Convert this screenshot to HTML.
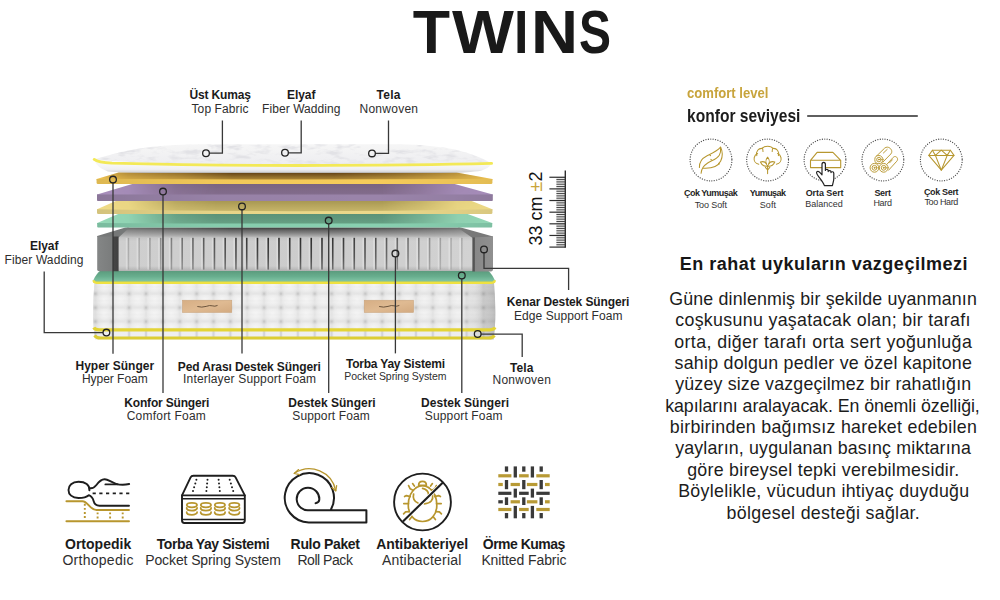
<!DOCTYPE html>
<html lang="tr">
<head>
<meta charset="utf-8">
<title>TWINS</title>
<style>
html,body{margin:0;padding:0;background:#fff;}
body{width:1000px;height:600px;overflow:hidden;font-family:"Liberation Sans",sans-serif;color:#1d1d1b;}
#page{position:relative;width:1000px;height:600px;overflow:hidden;background:#fff;}
.title{position:absolute;left:0;top:-3px;width:1000px;height:70px;margin:0;font-size:61px;line-height:70px;font-weight:700;color:#191919;white-space:nowrap;overflow:visible;}
.title span{display:inline-block;transform-origin:0 50%;overflow:visible;white-space:nowrap;letter-spacing:0;}
svg{position:absolute;left:0;top:0;overflow:visible;}
.t{position:absolute;white-space:pre;margin:0;padding:0;}

</style>
</head>
<body>
<div id="page">
<h1 class="title"><span style="width:37.27px;margin-left:412.80px;transform:scaleX(1.0)">T</span><span style="width:57.58px;margin-left:1.53px;transform:scaleX(1.075)">W</span><span style="width:16.96px;margin-left:5.32px;transform:scaleX(0.852)">I</span><span style="width:44.04px;margin-left:-0.01px;transform:scaleX(1.068)">N</span><span style="width:40.69px;margin-left:3.31px;transform:scaleX(0.787)">S</span></h1>
<svg id="mattress" width="1000" height="600" viewBox="0 0 1000 600">
<defs>
<linearGradient id="gMidH" gradientUnits="userSpaceOnUse" x1="97" y1="0" x2="493" y2="0">
<stop offset="0" stop-color="#fff" stop-opacity="0"/><stop offset="0.08" stop-color="#fff" stop-opacity="0.1"/><stop offset="0.2" stop-color="#fff" stop-opacity="0.8"/><stop offset="0.3" stop-color="#fff" stop-opacity="1"/><stop offset="0.72" stop-color="#fff" stop-opacity="1"/><stop offset="0.82" stop-color="#fff" stop-opacity="0.6"/><stop offset="0.91" stop-color="#fff" stop-opacity="0.15"/><stop offset="1" stop-color="#fff" stop-opacity="0.05"/>
</linearGradient>
<mask id="mMid" maskUnits="userSpaceOnUse" x="90" y="140" width="410" height="210"><rect x="90" y="140" width="410" height="210" fill="url(#gMidH)"/></mask>
<linearGradient id="gWideH" gradientUnits="userSpaceOnUse" x1="97" y1="0" x2="493" y2="0">
<stop offset="0" stop-color="#fff" stop-opacity="0"/><stop offset="0.03" stop-color="#fff" stop-opacity="0.25"/><stop offset="0.08" stop-color="#fff" stop-opacity="0.45"/><stop offset="0.22" stop-color="#fff" stop-opacity="0.7"/><stop offset="0.34" stop-color="#fff" stop-opacity="1"/><stop offset="0.6" stop-color="#fff" stop-opacity="1"/><stop offset="0.75" stop-color="#fff" stop-opacity="0.78"/><stop offset="0.9" stop-color="#fff" stop-opacity="0.45"/><stop offset="0.97" stop-color="#fff" stop-opacity="0.2"/><stop offset="1" stop-color="#fff" stop-opacity="0"/>
</linearGradient>
<mask id="mWide" maskUnits="userSpaceOnUse" x="90" y="140" width="410" height="210"><rect x="90" y="140" width="410" height="210" fill="url(#gWideH)"/></mask>
<linearGradient id="gFrontH" gradientUnits="userSpaceOnUse" x1="97" y1="0" x2="493" y2="0">
<stop offset="0" stop-color="#000" stop-opacity="0.1"/><stop offset="0.3" stop-color="#000" stop-opacity="0.02"/><stop offset="0.7" stop-color="#000" stop-opacity="0"/><stop offset="0.9" stop-color="#000" stop-opacity="0.04"/><stop offset="1" stop-color="#000" stop-opacity="0.08"/>
</linearGradient>
<linearGradient id="gEdgeR" x1="0" y1="0" x2="1" y2="0">
<stop offset="0" stop-color="#000" stop-opacity="0"/><stop offset="0.5" stop-color="#000" stop-opacity="0.09"/><stop offset="1" stop-color="#000" stop-opacity="0.2"/>
</linearGradient>
<linearGradient id="gBody" x1="0" y1="0" x2="1" y2="0">
<stop offset="0" stop-color="#dcdcdc"/><stop offset="0.03" stop-color="#f1f1f1"/><stop offset="0.5" stop-color="#f3f3f3"/><stop offset="0.96" stop-color="#ededed"/><stop offset="1" stop-color="#d4d4d4"/>
</linearGradient>
<linearGradient id="gGreenLow" x1="0" y1="0" x2="0" y2="1">
<stop offset="0" stop-color="#5a9a7c"/><stop offset="0.5" stop-color="#68ae8e"/><stop offset="0.9" stop-color="#80c4a4"/><stop offset="1" stop-color="#4f9f88"/>
</linearGradient>
<linearGradient id="gSpringTop" x1="0" y1="0" x2="0" y2="1">
<stop offset="0" stop-color="#8a8a8a"/><stop offset="0.3" stop-color="#a4a4a4"/><stop offset="0.8" stop-color="#bcbcbc"/><stop offset="1" stop-color="#c6c6c6"/>
</linearGradient>
<linearGradient id="gSpringTopSh" x1="0" y1="0" x2="0" y2="1">
<stop offset="0" stop-color="#0a0608" stop-opacity="0.62"/><stop offset="0.2" stop-color="#000" stop-opacity="0.42"/><stop offset="0.7" stop-color="#000" stop-opacity="0.16"/><stop offset="1" stop-color="#000" stop-opacity="0"/>
</linearGradient>
<linearGradient id="gCoilH" gradientUnits="userSpaceOnUse" x1="118" y1="0" x2="473" y2="0">
<stop offset="0" stop-color="#cfcfcf"/><stop offset="0.3" stop-color="#cdcdcd"/><stop offset="0.6" stop-color="#cccccc"/><stop offset="1" stop-color="#d2d2d2"/>
</linearGradient>
<linearGradient id="gCoilV" x1="0" y1="0" x2="0" y2="1">
<stop offset="0" stop-color="#000" stop-opacity="0.06"/><stop offset="0.12" stop-color="#000" stop-opacity="0"/><stop offset="0.85" stop-color="#000" stop-opacity="0"/><stop offset="1" stop-color="#000" stop-opacity="0.14"/>
</linearGradient>
<linearGradient id="gDiv" x1="0" y1="0" x2="0" y2="1">
<stop offset="0" stop-color="#242424"/><stop offset="0.6" stop-color="#3e3e3e"/><stop offset="1" stop-color="#6a6a6a"/>
</linearGradient>
<linearGradient id="gFoamL" x1="0" y1="0" x2="1" y2="0">
<stop offset="0" stop-color="#848686"/><stop offset="0.72" stop-color="#7a7c7c"/><stop offset="0.76" stop-color="#464646"/><stop offset="1" stop-color="#404040"/>
</linearGradient>
<linearGradient id="gFoamR" x1="0" y1="0" x2="1" y2="0">
<stop offset="0" stop-color="#4e4e4e"/><stop offset="0.1" stop-color="#5a5a5a"/><stop offset="0.15" stop-color="#888"/><stop offset="1" stop-color="#909090"/>
</linearGradient>
<linearGradient id="gPadTop" x1="0" y1="0" x2="0" y2="1">
<stop offset="0" stop-color="#f6f6f6"/><stop offset="1" stop-color="#ededf0"/>
</linearGradient>
<linearGradient id="gPadSide" gradientUnits="userSpaceOnUse" x1="0" y1="165" x2="0" y2="173">
<stop offset="0" stop-color="#f6f6f8"/><stop offset="0.55" stop-color="#efeff2"/><stop offset="0.85" stop-color="#d9d9dc"/><stop offset="1" stop-color="#a9a7a3"/>
</linearGradient>
<linearGradient id="gTag" x1="0" y1="0" x2="1" y2="1">
<stop offset="0" stop-color="#d6ae84"/><stop offset="0.5" stop-color="#dfba92"/><stop offset="1" stop-color="#d3aa80"/>
</linearGradient>
<radialGradient id="gTuft" cx="0.5" cy="0.5" r="0.5">
<stop offset="0" stop-color="#8a8a8a" stop-opacity="0.8"/><stop offset="0.45" stop-color="#a8a8a8" stop-opacity="0.4"/><stop offset="1" stop-color="#c0c0c0" stop-opacity="0"/>
</radialGradient>
<radialGradient id="gPuff" cx="0.5" cy="0.45" r="0.62">
<stop offset="0" stop-color="#fff" stop-opacity="0.8"/><stop offset="0.6" stop-color="#fff" stop-opacity="0.42"/><stop offset="1" stop-color="#fff" stop-opacity="0"/>
</radialGradient>
<pattern id="pQuilt" x="95.4" y="279.8" width="16.87" height="13.9" patternUnits="userSpaceOnUse">
<rect width="16.87" height="13.9" fill="#dedede"/>
<rect x="1.0" y="0.9" width="14.9" height="12.1" rx="3.4" fill="url(#gPuff)"/>
<rect x="0" y="6.6" width="16.87" height="0.7" fill="#cfcfcf" opacity="0.5"/>
<rect x="-3.6" y="10.3" width="7.2" height="7.2" fill="url(#gTuft)"/>
<rect x="13.27" y="10.3" width="7.2" height="7.2" fill="url(#gTuft)"/>
<rect x="-3.6" y="-3.6" width="7.2" height="7.2" fill="url(#gTuft)"/>
<rect x="13.27" y="-3.6" width="7.2" height="7.2" fill="url(#gTuft)"/>
</pattern>
<pattern id="pBand" x="95.4" y="331" width="16.87" height="6" patternUnits="userSpaceOnUse">
<rect width="16.87" height="6" fill="#ececf0"/>
<rect x="-1.2" y="0" width="2.4" height="6" fill="#b9bac6" opacity="0.8"/>
<rect x="15.67" y="0" width="2.4" height="6" fill="#b9bac6" opacity="0.8"/>
</pattern>
<filter id="fPad" x="0" y="0" width="100%" height="100%">
<feTurbulence type="fractalNoise" baseFrequency="0.07 0.2" numOctaves="3" seed="11" result="n"/>
<feColorMatrix in="n" type="matrix" values="0 0 0 0 0.76  0 0 0 0 0.76  0 0 0 0 0.79  2.4 2.4 0 0 -2.35"/>
<feComposite operator="in" in2="SourceGraphic"/>
</filter>
<filter id="fSoft" x="-5%" y="-5%" width="110%" height="110%"><feGaussianBlur stdDeviation="0.35"/></filter>
<clipPath id="cBody"><path d="M94.4,283 H494 Q495.6,300 495.3,318 Q495.2,330 493.6,339.6 H95 Q93.2,330 93.1,318 Q92.9,300 94.4,283 Z"/></clipPath>
</defs>
<g id="base">
<g clip-path="url(#cBody)">
<rect x="92" y="282" width="405" height="58" fill="#f1f1f1"/>
<rect x="92" y="282" width="405" height="48" fill="url(#pQuilt)" filter="url(#fSoft)"/>
<rect x="92" y="331" width="405" height="6.4" fill="url(#pBand)" filter="url(#fSoft)"/>
<rect x="92" y="282" width="405" height="58" fill="url(#gBody)" opacity="0.35"/>
<rect x="462" y="282" width="35" height="58" fill="url(#gEdgeR)"/>
</g>
<rect x="182.39999999999998" y="300.2" width="49.4" height="12.3" fill="url(#gTag)" stroke="#c8a27a" stroke-width="0.5"/>
<path d="M197.7,306.6 q4,1.2 8.5,-0.2 q3.5,-1.4 6,-0.6 q2.6,1 5,-0.2" fill="none" stroke="#5f4832" stroke-width="0.9" stroke-linecap="round"/>
<rect x="364.2" y="300.2" width="49.4" height="12.3" fill="url(#gTag)" stroke="#c8a27a" stroke-width="0.5"/>
<path d="M379.5,306.6 q4,1.2 8.5,-0.2 q3.5,-1.4 6,-0.6 q2.6,1 5,-0.2" fill="none" stroke="#5f4832" stroke-width="0.9" stroke-linecap="round"/>
<path d="M100.5,270.6 H488 Q491.6,273.6 495,280.6 L494.6,282.4 H93.6 L93.2,280.4 Q96.4,273.6 100.5,270.6 Z" fill="url(#gGreenLow)"/>
<path d="M93.6,280.2 Q93.7,282.6 96.6,282.7 H491.8 Q494.7,282.6 494.8,280.2" fill="none" stroke="#efe140" stroke-width="2.4"/>
<path d="M93.8,327.4 Q95,329.7 99,329.8 H490 Q494,329.7 495,327.4" fill="none" stroke="#e3d436" stroke-width="3.2"/>
<path d="M94.6,335.4 Q96.2,338 100.5,338.1 H488.5 Q492.8,338 494.4,335.4" fill="none" stroke="#dccd34" stroke-width="3"/>
</g>
<g id="springs">
<polygon points="117,238 127,227.4 460,227.4 474,238" fill="url(#gSpringTop)"/>
<polygon points="117,238 127,227.4 460,227.4 474,238" fill="url(#gSpringTopSh)" mask="url(#mWide)"/>
<rect x="118" y="237.2" width="355" height="33.8" fill="url(#gCoilH)"/>
<rect x="118" y="237.2" width="355" height="33.8" fill="url(#gCoilV)"/>
<rect x="125.80" y="238" width="2" height="31.6" fill="#fff" opacity="0.28"/>
<rect x="127.60" y="237.8" width="1.6" height="31.8" fill="url(#gDiv)" opacity="0.22"/>
<rect x="136.56" y="238" width="2" height="31.6" fill="#fff" opacity="0.28"/>
<rect x="138.35" y="237.8" width="1.6" height="31.8" fill="url(#gDiv)" opacity="0.22"/>
<rect x="147.31" y="238" width="2" height="31.6" fill="#fff" opacity="0.28"/>
<rect x="149.11" y="237.8" width="1.6" height="31.8" fill="url(#gDiv)" opacity="0.29"/>
<rect x="158.07" y="238" width="2" height="31.6" fill="#fff" opacity="0.28"/>
<rect x="159.87" y="237.8" width="1.6" height="31.8" fill="url(#gDiv)" opacity="0.38"/>
<rect x="168.82" y="238" width="2" height="31.6" fill="#fff" opacity="0.28"/>
<rect x="170.62" y="237.8" width="1.6" height="31.8" fill="url(#gDiv)" opacity="0.47"/>
<rect x="179.58" y="238" width="2" height="31.6" fill="#fff" opacity="0.28"/>
<rect x="181.38" y="237.8" width="1.6" height="31.8" fill="url(#gDiv)" opacity="0.55"/>
<rect x="190.33" y="238" width="2" height="31.6" fill="#fff" opacity="0.28"/>
<rect x="192.13" y="237.8" width="1.6" height="31.8" fill="url(#gDiv)" opacity="0.62"/>
<rect x="201.09" y="238" width="2" height="31.6" fill="#fff" opacity="0.28"/>
<rect x="202.88" y="237.8" width="1.6" height="31.8" fill="url(#gDiv)" opacity="0.69"/>
<rect x="211.84" y="238" width="2" height="31.6" fill="#fff" opacity="0.28"/>
<rect x="213.64" y="237.8" width="1.6" height="31.8" fill="url(#gDiv)" opacity="0.75"/>
<rect x="222.59" y="238" width="2" height="31.6" fill="#fff" opacity="0.28"/>
<rect x="224.39" y="237.8" width="1.6" height="31.8" fill="url(#gDiv)" opacity="0.80"/>
<rect x="233.35" y="238" width="2" height="31.6" fill="#fff" opacity="0.28"/>
<rect x="235.15" y="237.8" width="1.6" height="31.8" fill="url(#gDiv)" opacity="0.84"/>
<rect x="244.11" y="238" width="2" height="31.6" fill="#fff" opacity="0.28"/>
<rect x="245.91" y="237.8" width="1.6" height="31.8" fill="url(#gDiv)" opacity="0.88"/>
<rect x="254.86" y="238" width="2" height="31.6" fill="#fff" opacity="0.28"/>
<rect x="256.66" y="237.8" width="1.6" height="31.8" fill="url(#gDiv)" opacity="0.91"/>
<rect x="265.62" y="238" width="2" height="31.6" fill="#fff" opacity="0.28"/>
<rect x="267.42" y="237.8" width="1.6" height="31.8" fill="url(#gDiv)" opacity="0.93"/>
<rect x="276.37" y="238" width="2" height="31.6" fill="#fff" opacity="0.28"/>
<rect x="278.17" y="237.8" width="1.6" height="31.8" fill="url(#gDiv)" opacity="0.94"/>
<rect x="287.12" y="238" width="2" height="31.6" fill="#fff" opacity="0.28"/>
<rect x="288.93" y="237.8" width="1.6" height="31.8" fill="url(#gDiv)" opacity="0.95"/>
<rect x="297.88" y="238" width="2" height="31.6" fill="#fff" opacity="0.28"/>
<rect x="299.68" y="237.8" width="1.6" height="31.8" fill="url(#gDiv)" opacity="0.95"/>
<rect x="308.63" y="238" width="2" height="31.6" fill="#fff" opacity="0.28"/>
<rect x="310.44" y="237.8" width="1.6" height="31.8" fill="url(#gDiv)" opacity="0.94"/>
<rect x="319.39" y="238" width="2" height="31.6" fill="#fff" opacity="0.28"/>
<rect x="321.19" y="237.8" width="1.6" height="31.8" fill="url(#gDiv)" opacity="0.93"/>
<rect x="330.14" y="238" width="2" height="31.6" fill="#fff" opacity="0.28"/>
<rect x="331.94" y="237.8" width="1.6" height="31.8" fill="url(#gDiv)" opacity="0.91"/>
<rect x="340.90" y="238" width="2" height="31.6" fill="#fff" opacity="0.28"/>
<rect x="342.70" y="237.8" width="1.6" height="31.8" fill="url(#gDiv)" opacity="0.88"/>
<rect x="351.65" y="238" width="2" height="31.6" fill="#fff" opacity="0.28"/>
<rect x="353.45" y="237.8" width="1.6" height="31.8" fill="url(#gDiv)" opacity="0.84"/>
<rect x="362.41" y="238" width="2" height="31.6" fill="#fff" opacity="0.28"/>
<rect x="364.21" y="237.8" width="1.6" height="31.8" fill="url(#gDiv)" opacity="0.80"/>
<rect x="373.16" y="238" width="2" height="31.6" fill="#fff" opacity="0.28"/>
<rect x="374.96" y="237.8" width="1.6" height="31.8" fill="url(#gDiv)" opacity="0.74"/>
<rect x="383.92" y="238" width="2" height="31.6" fill="#fff" opacity="0.28"/>
<rect x="385.72" y="237.8" width="1.6" height="31.8" fill="url(#gDiv)" opacity="0.69"/>
<rect x="394.67" y="238" width="2" height="31.6" fill="#fff" opacity="0.28"/>
<rect x="396.47" y="237.8" width="1.6" height="31.8" fill="url(#gDiv)" opacity="0.62"/>
<rect x="405.43" y="238" width="2" height="31.6" fill="#fff" opacity="0.28"/>
<rect x="407.23" y="237.8" width="1.6" height="31.8" fill="url(#gDiv)" opacity="0.55"/>
<rect x="416.19" y="238" width="2" height="31.6" fill="#fff" opacity="0.28"/>
<rect x="417.99" y="237.8" width="1.6" height="31.8" fill="url(#gDiv)" opacity="0.47"/>
<rect x="426.94" y="238" width="2" height="31.6" fill="#fff" opacity="0.28"/>
<rect x="428.74" y="237.8" width="1.6" height="31.8" fill="url(#gDiv)" opacity="0.38"/>
<rect x="437.70" y="238" width="2" height="31.6" fill="#fff" opacity="0.28"/>
<rect x="439.50" y="237.8" width="1.6" height="31.8" fill="url(#gDiv)" opacity="0.28"/>
<rect x="448.45" y="238" width="2" height="31.6" fill="#fff" opacity="0.28"/>
<rect x="450.25" y="237.8" width="1.6" height="31.8" fill="url(#gDiv)" opacity="0.22"/>
<rect x="459.21" y="238" width="2" height="31.6" fill="#fff" opacity="0.28"/>
<rect x="461.01" y="237.8" width="1.6" height="31.8" fill="url(#gDiv)" opacity="0.22"/>
<polygon points="97.2,237 97.2,236 125.4,227.4 129.4,227.4 118.6,237.6" fill="#767878"/>
<path d="M97.2,236.6 H118.6 V271.2 H99 Q97.2,271.2 97.2,269.4 Z" fill="url(#gFoamL)"/>
<polygon points="457.6,227.4 461,227.4 493,236.4 493,238 472.6,238" fill="#787878"/>
<path d="M472.4,237.4 L493,236.6 V269.6 Q493,271.4 491.2,271.4 H472.4 Z" fill="url(#gFoamR)"/>
</g>
<g id="slabs">
<path d="M97.2,224.2 V223 L119.2,213.4 H466.2 L492.2,223 V224.2 Q294.7,225.39999999999998 97.2,224.2 Z" fill="#96dab9"/>
<linearGradient id="gS4v" gradientUnits="userSpaceOnUse" x1="0" y1="213.4" x2="0" y2="224.2"><stop offset="0" stop-color="#0a301e" stop-opacity="0.43"/><stop offset="1" stop-color="#0a301e" stop-opacity="0.34"/></linearGradient>
<path d="M97.2,224.2 V223 L119.2,213.4 H466.2 L492.2,223 V224.2 Q294.7,225.39999999999998 97.2,224.2 Z" fill="url(#gS4v)" mask="url(#mMid)"/>
<path d="M97.2,223 Q294.7,224.2 492.2,223 V226.79999999999998 Q492.2,227.6 491.2,227.6 H98.2 Q97.2,227.6 97.2,226.79999999999998 Z" fill="#88d0b0"/>
<path d="M97.2,223 Q294.7,224.2 492.2,223 V226.79999999999998 Q492.2,227.6 491.2,227.6 H98.2 Q97.2,227.6 97.2,226.79999999999998 Z" fill="url(#gFrontH)"/>
<path d="M97.0,210.39999999999998 V209.2 L117.0,200.4 H470.4 L492.4,209.2 V210.39999999999998 Q294.7,214.39999999999998 97.0,210.39999999999998 Z" fill="#f0dc88"/>
<linearGradient id="gS3v" gradientUnits="userSpaceOnUse" x1="0" y1="200.4" x2="0" y2="211.79999999999998"><stop offset="0" stop-color="#3a3000" stop-opacity="0.4"/><stop offset="1" stop-color="#3a3000" stop-opacity="0.22"/></linearGradient>
<path d="M97.0,210.39999999999998 V209.2 L117.0,200.4 H470.4 L492.4,209.2 V210.39999999999998 Q294.7,214.39999999999998 97.0,210.39999999999998 Z" fill="url(#gS3v)" mask="url(#mMid)"/>
<path d="M97.0,209.2 Q294.7,213.2 492.4,209.2 V213.1 Q492.4,213.9 491.4,213.9 H98.0 Q97.0,213.9 97.0,213.1 Z" fill="#ebd88a"/>
<path d="M97.0,209.2 Q294.7,213.2 492.4,209.2 V213.1 Q492.4,213.9 491.4,213.9 H98.0 Q97.0,213.9 97.0,213.1 Z" fill="url(#gFrontH)"/>
<path d="M97.0,195.6 V194.4 L134.0,183.4 H452.8 L492.8,194.4 V195.6 Q294.9,195.6 97.0,195.6 Z" fill="#a88fbc"/>
<linearGradient id="gS2v" gradientUnits="userSpaceOnUse" x1="0" y1="183.4" x2="0" y2="195.0"><stop offset="0" stop-color="#3a2a30" stop-opacity="0.43"/><stop offset="1" stop-color="#3a2a30" stop-opacity="0.33"/></linearGradient>
<path d="M97.0,195.6 V194.4 L134.0,183.4 H452.8 L492.8,194.4 V195.6 Q294.9,195.6 97.0,195.6 Z" fill="url(#gS2v)" mask="url(#mMid)"/>
<path d="M97.0,194.4 Q294.9,194.4 492.8,194.4 V200.29999999999998 Q492.8,201.1 491.8,201.1 H98.0 Q97.0,201.1 97.0,200.29999999999998 Z" fill="#9a84aa"/>
<path d="M97.0,194.4 Q294.9,194.4 492.8,194.4 V200.29999999999998 Q492.8,201.1 491.8,201.1 H98.0 Q97.0,201.1 97.0,200.29999999999998 Z" fill="url(#gFrontH)"/>
<path d="M96.6,180.2 V179 L118.6,172.6 H456.4 L492.4,179 V180.2 Q294.5,181.0 96.6,180.2 Z" fill="#f3c754"/>
<linearGradient id="gS1v" gradientUnits="userSpaceOnUse" x1="0" y1="172.6" x2="0" y2="180.0"><stop offset="0" stop-color="#2e1200" stop-opacity="0.74"/><stop offset="1" stop-color="#2e1200" stop-opacity="0.32"/></linearGradient>
<path d="M96.6,180.2 V179 L118.6,172.6 H456.4 L492.4,179 V180.2 Q294.5,181.0 96.6,180.2 Z" fill="url(#gS1v)" mask="url(#mWide)"/>
<path d="M96.6,179 Q294.5,179.8 492.4,179 V183.1 Q492.4,183.9 491.4,183.9 H97.6 Q96.6,183.9 96.6,183.1 Z" fill="#f6cc5a"/>
<path d="M96.6,179 Q294.5,179.8 492.4,179 V183.1 Q492.4,183.9 491.4,183.9 H97.6 Q96.6,183.9 96.6,183.1 Z" fill="url(#gFrontH)"/>
</g>
<g id="pad">
<path d="M94.4,160 Q97,168 108,171.4 Q120,172.8 160,172.9 H440 Q470,172.7 481,170.8 Q489,168.3 491.6,163.6 Q440,164.4 300,165.2 Q150,164.9 94.4,160 Z" fill="url(#gPadSide)"/>
<path d="M94.2,159.6 Q112,153.5 135,149.2 Q160,144.8 200,144.2 H400 Q432,144.8 455,149.6 Q478,155.4 491.8,163.4 Q440,164.2 300,165.2 Q150,164.8 94.2,159.6 Z" fill="url(#gPadTop)"/>
<path d="M94.2,159.6 Q112,153.5 135,149.2 Q160,144.8 200,144.2 H400 Q432,144.8 455,149.6 Q478,155.4 491.8,163.4 Q440,164.2 300,165.2 Q150,164.8 94.2,159.6 Z" fill="#fff" filter="url(#fPad)"/>
<path d="M94.2,159.4 Q98,162.4 112,163.2 Q200,165.5 300,165.5 Q420,165.2 491.6,163.4" fill="none" stroke="#f3e957" stroke-width="2.8" stroke-linecap="round"/>
</g>
<g id="callouts" fill="none" stroke="#383838" stroke-width="1.3">
<path d="M209.3,153.2 H222.4 V120.5"/>
<circle cx="206" cy="153.2" r="3.35" stroke="#232323" stroke-width="1.3"/>
<path d="M288.3,152.8 H301.2 V120.5"/>
<circle cx="285" cy="152.8" r="3.35" stroke="#232323" stroke-width="1.3"/>
<path d="M375.3,153.4 H388.5 V120.5"/>
<circle cx="372" cy="153.4" r="3.35" stroke="#232323" stroke-width="1.3"/>
<path d="M103.1,332.6 H44.2 V271.5"/>
<circle cx="106.4" cy="332.6" r="3.35" stroke="#232323" stroke-width="1.3"/>
<path d="M113,182.9 V353.8"/>
<circle cx="113" cy="179.6" r="3.35" stroke="#232323" stroke-width="1.3"/>
<path d="M163,194.9 V393"/>
<circle cx="163" cy="191.6" r="3.35" stroke="#232323" stroke-width="1.3"/>
<path d="M242,209.7 V353.4"/>
<circle cx="242" cy="206.4" r="3.35" stroke="#232323" stroke-width="1.3"/>
<path d="M328.7,223.9 V393"/>
<circle cx="328.7" cy="220.6" r="3.35" stroke="#232323" stroke-width="1.3"/>
<path d="M395.4,256.9 V353.4"/>
<circle cx="395.4" cy="253.6" r="3.35" stroke="#232323" stroke-width="1.3"/>
<path d="M461.8,278.8 V393"/>
<circle cx="461.8" cy="275.5" r="3.35" stroke="#232323" stroke-width="1.3"/>
<path d="M484,252.7 V268.4 H568.6 V290"/>
<circle cx="484" cy="249.4" r="3.35" stroke="#232323" stroke-width="1.3"/>
<path d="M481,334.2 H522.2 V357"/>
<circle cx="477.7" cy="334" r="3.35" stroke="#232323" stroke-width="1.3"/>
</g>
<g id="ruler" stroke="#2e2e2e">
<line x1="565.3" y1="170.6" x2="565.3" y2="247.8" stroke-width="1.4"/>
<line x1="549.4" y1="177.25" x2="565.3" y2="177.25" stroke-width="1.2"/>
<line x1="556.4" y1="179.58" x2="565.3" y2="179.58" stroke-width="0.95" stroke="#444"/>
<line x1="556.4" y1="181.91" x2="565.3" y2="181.91" stroke-width="0.95" stroke="#444"/>
<line x1="556.4" y1="184.24" x2="565.3" y2="184.24" stroke-width="0.95" stroke="#444"/>
<line x1="556.4" y1="186.56" x2="565.3" y2="186.56" stroke-width="0.95" stroke="#444"/>
<line x1="549.4" y1="188.89" x2="565.3" y2="188.89" stroke-width="1.2"/>
<line x1="556.4" y1="191.22" x2="565.3" y2="191.22" stroke-width="0.95" stroke="#444"/>
<line x1="556.4" y1="193.55" x2="565.3" y2="193.55" stroke-width="0.95" stroke="#444"/>
<line x1="556.4" y1="195.88" x2="565.3" y2="195.88" stroke-width="0.95" stroke="#444"/>
<line x1="556.4" y1="198.20" x2="565.3" y2="198.20" stroke-width="0.95" stroke="#444"/>
<line x1="549.4" y1="200.53" x2="565.3" y2="200.53" stroke-width="1.2"/>
<line x1="556.4" y1="202.86" x2="565.3" y2="202.86" stroke-width="0.95" stroke="#444"/>
<line x1="556.4" y1="205.19" x2="565.3" y2="205.19" stroke-width="0.95" stroke="#444"/>
<line x1="556.4" y1="207.52" x2="565.3" y2="207.52" stroke-width="0.95" stroke="#444"/>
<line x1="556.4" y1="209.85" x2="565.3" y2="209.85" stroke-width="0.95" stroke="#444"/>
<line x1="549.4" y1="212.18" x2="565.3" y2="212.18" stroke-width="1.2"/>
<line x1="556.4" y1="214.50" x2="565.3" y2="214.50" stroke-width="0.95" stroke="#444"/>
<line x1="556.4" y1="216.83" x2="565.3" y2="216.83" stroke-width="0.95" stroke="#444"/>
<line x1="556.4" y1="219.16" x2="565.3" y2="219.16" stroke-width="0.95" stroke="#444"/>
<line x1="556.4" y1="221.49" x2="565.3" y2="221.49" stroke-width="0.95" stroke="#444"/>
<line x1="549.4" y1="223.82" x2="565.3" y2="223.82" stroke-width="1.2"/>
<line x1="556.4" y1="226.14" x2="565.3" y2="226.14" stroke-width="0.95" stroke="#444"/>
<line x1="556.4" y1="228.47" x2="565.3" y2="228.47" stroke-width="0.95" stroke="#444"/>
<line x1="556.4" y1="230.80" x2="565.3" y2="230.80" stroke-width="0.95" stroke="#444"/>
<line x1="556.4" y1="233.13" x2="565.3" y2="233.13" stroke-width="0.95" stroke="#444"/>
<line x1="549.4" y1="235.46" x2="565.3" y2="235.46" stroke-width="1.2"/>
<line x1="556.4" y1="237.79" x2="565.3" y2="237.79" stroke-width="0.95" stroke="#444"/>
<line x1="556.4" y1="240.12" x2="565.3" y2="240.12" stroke-width="0.95" stroke="#444"/>
<line x1="556.4" y1="242.44" x2="565.3" y2="242.44" stroke-width="0.95" stroke="#444"/>
<line x1="556.4" y1="244.77" x2="565.3" y2="244.77" stroke-width="0.95" stroke="#444"/>
<line x1="549.4" y1="247.10" x2="565.3" y2="247.10" stroke-width="1.2"/>
<rect x="556.4" y="177.2" width="8.6" height="70" fill="#000" stroke="none" opacity="0.1"/>
</g>
<text transform="translate(541.8,245.6) rotate(-90)" font-family="'Liberation Sans',sans-serif" font-size="18" fill="#111" textLength="74" lengthAdjust="spacing">33 cm <tspan fill="#c9a53c">±</tspan>2</text>
</svg>
<div id="labels">
<div class="t" style="left:189.50px;top:87px;font-size:12px;line-height:16px;letter-spacing:-0.148px;font-weight:700;color:#1b1b1b;">Üst Kumaş</div>
<div class="t" style="left:191.50px;top:101px;font-size:12px;line-height:16px;letter-spacing:0.108px;color:#2e2e2e;">Top Fabric</div>
<div class="t" style="left:287.00px;top:87px;font-size:12px;line-height:16px;letter-spacing:-0.047px;font-weight:700;color:#1b1b1b;">Elyaf</div>
<div class="t" style="left:262.00px;top:101px;font-size:12px;line-height:16px;letter-spacing:0.076px;color:#2e2e2e;">Fiber Wadding</div>
<div class="t" style="left:376.50px;top:87px;font-size:12px;line-height:16px;letter-spacing:0.292px;font-weight:700;color:#1b1b1b;">Tela</div>
<div class="t" style="left:359.50px;top:101px;font-size:12px;line-height:16px;letter-spacing:0.257px;color:#2e2e2e;">Nonwoven</div>
<div class="t" style="left:30.00px;top:238px;font-size:12px;line-height:16px;letter-spacing:-0.047px;font-weight:700;color:#1b1b1b;">Elyaf</div>
<div class="t" style="left:4.50px;top:252px;font-size:12px;line-height:16px;letter-spacing:0.117px;color:#2e2e2e;">Fiber Wadding</div>
<div class="t" style="left:75.50px;top:358px;font-size:12px;line-height:16px;letter-spacing:-0.008px;font-weight:700;color:#1b1b1b;">Hyper Sünger</div>
<div class="t" style="left:81.90px;top:371px;font-size:12px;line-height:16px;letter-spacing:-0.026px;color:#2e2e2e;">Hyper Foam</div>
<div class="t" style="left:124.30px;top:395px;font-size:12px;line-height:16px;letter-spacing:-0.179px;font-weight:700;color:#1b1b1b;">Konfor Süngeri</div>
<div class="t" style="left:126.70px;top:408px;font-size:12px;line-height:16px;letter-spacing:0.219px;color:#2e2e2e;">Comfort Foam</div>
<div class="t" style="left:177.80px;top:359px;font-size:12px;line-height:16px;letter-spacing:-0.110px;font-weight:700;color:#1b1b1b;">Ped Arası Destek Süngeri</div>
<div class="t" style="left:183.10px;top:371px;font-size:12px;line-height:16px;letter-spacing:0.163px;color:#2e2e2e;">Interlayer Support Foam</div>
<div class="t" style="left:345.90px;top:356px;font-size:12px;line-height:16px;letter-spacing:-0.199px;font-weight:700;color:#1b1b1b;">Torba Yay Sistemi</div>
<div class="t" style="left:344.30px;top:369px;font-size:10.5px;line-height:14px;letter-spacing:-0.058px;color:#2e2e2e;">Pocket Spring System</div>
<div class="t" style="left:288.30px;top:395px;font-size:12px;line-height:16px;letter-spacing:0.002px;font-weight:700;color:#1b1b1b;">Destek Süngeri</div>
<div class="t" style="left:292.30px;top:408px;font-size:12px;line-height:16px;letter-spacing:0.132px;color:#2e2e2e;">Support Foam</div>
<div class="t" style="left:421.10px;top:395px;font-size:12px;line-height:16px;letter-spacing:0.040px;font-weight:700;color:#1b1b1b;">Destek Süngeri</div>
<div class="t" style="left:424.80px;top:408px;font-size:12px;line-height:16px;letter-spacing:0.150px;color:#2e2e2e;">Support Foam</div>
<div class="t" style="left:506.80px;top:294px;font-size:12px;line-height:16px;letter-spacing:-0.112px;font-weight:700;color:#1b1b1b;">Kenar Destek Süngeri</div>
<div class="t" style="left:514.00px;top:308px;font-size:12px;line-height:16px;letter-spacing:0.068px;color:#2e2e2e;">Edge Support Foam</div>
<div class="t" style="left:509.90px;top:360px;font-size:12px;line-height:16px;letter-spacing:0.158px;font-weight:700;color:#1b1b1b;">Tela</div>
<div class="t" style="left:492.50px;top:372px;font-size:12px;line-height:16px;letter-spacing:0.242px;color:#2e2e2e;">Nonwoven</div>
</div>
<div id="comfort">
<div class="t" style="left:687.10px;top:83px;font-size:15px;line-height:20px;transform-origin:0 0;transform:scaleX(0.8718);font-weight:700;color:#c8a43c;">comfort level</div>
<div class="t" style="left:687.10px;top:104px;font-size:18.5px;line-height:24px;transform-origin:0 0;transform:scaleX(0.8419);font-weight:700;color:#1c1c1c;">konfor seviyesi</div>
<svg id="cicons" width="1000" height="600" viewBox="0 0 1000 600">
<line x1="807.2" y1="116" x2="917.8" y2="116" stroke="#2a2a2a" stroke-width="1.3"/>
<circle cx="711.0" cy="160.0" r="20.9" fill="none" stroke="#4f4f4f" stroke-width="1.3" stroke-dasharray="0.01 2.43" stroke-linecap="round"/>
<circle cx="767.6" cy="160.0" r="20.9" fill="none" stroke="#4f4f4f" stroke-width="1.3" stroke-dasharray="0.01 2.43" stroke-linecap="round"/>
<circle cx="825.0" cy="160.0" r="20.9" fill="none" stroke="#4f4f4f" stroke-width="1.3" stroke-dasharray="0.01 2.43" stroke-linecap="round"/>
<circle cx="882.9" cy="160.0" r="20.9" fill="none" stroke="#4f4f4f" stroke-width="1.3" stroke-dasharray="0.01 2.43" stroke-linecap="round"/>
<circle cx="941.3" cy="160.0" r="20.9" fill="none" stroke="#4f4f4f" stroke-width="1.3" stroke-dasharray="0.01 2.43" stroke-linecap="round"/>
<g transform="translate(0.10,0.00)" fill="none" stroke="#b7972f" stroke-width="1.05" stroke-linecap="round" stroke-linejoin="round">
<path d="M720.5,147.2 C716.5,151.6 711.5,153.6 706.6,156 C702,158.3 699.2,162 699.3,167.4"/>
<path d="M720.5,147.2 C722.6,151.4 722.6,156.6 720.6,161 C718,166.4 711.5,168.6 703.4,168.2"/>
<path d="M701,173.2 C701.2,169 703.6,165.6 707.6,163 C711.6,160.4 716.5,159.4 719.2,155.2 C720.4,153.2 720.8,150.6 720.5,147.2"/>
<path d="M709.6,154.8 l0.9,0.9"/><path d="M718.4,163.4 l0.9,0.6"/><path d="M710.8,159.4 l0.5,0.5"/>
</g>
<g transform="translate(0.00,0.00)" fill="none" stroke="#b7972f" stroke-width="1.05" stroke-linecap="round" stroke-linejoin="round">
<path d="M758.8,164.2 C755.4,163.4 753.6,160.6 754.2,157.6 C754.6,155.6 756,154.2 757.6,153.6"/>
<path d="M756.8,155.6 C755.6,151.4 758.6,148 762.2,148.4 C762.8,148.5 763,149.6 763,151.4"/>
<path d="M762.2,148.6 C763.2,146.8 765.2,146.2 767.6,146.2 C770,146.2 772,146.8 773,148.6"/>
<path d="M772.2,151.4 C772.2,149.6 772.4,148.5 773,148.4 C776.6,148 779.6,151.4 778.4,155.6"/>
<path d="M777.6,153.6 C779.2,154.2 780.6,155.6 781,157.6 C781.6,160.6 779.8,163.4 776.4,164.2"/>
<path d="M767.6,157.2 C765.6,159.6 765.4,163.4 767.6,166.2 C769.8,163.4 769.6,159.6 767.6,157.2 Z"/>
<path d="M767.6,166.2 C764.4,166.6 761.8,165.2 760.4,162 C763.2,161.2 765.4,162 766.4,163.6"/>
<path d="M767.6,166.2 C770.8,166.6 773.4,165.2 774.8,162 C772,161.2 769.8,162 768.8,163.6"/>
<path d="M765.4,167.4 L767.6,170 L769.8,167.4"/>
<path d="M767.6,166.2 V173.6"/>
</g>
<g transform="translate(0.00,0.00)" stroke-linecap="round" stroke-linejoin="round">
<path d="M810.5,160.3 L817.1,152.4 H832.9 L840.7,160.3 V167.6 H810.5 Z M810.5,160.3 H840.7" fill="none" stroke="#b7972f" stroke-width="1.1"/>
<path d="M822,164.4 C822,161.6 825.4,161.6 825.4,164.4 V170.4 C825.4,169 828.2,169 828.2,170.6 V171.6 C828.2,170.2 831,170.2 831,171.8 V172.6 C831,171.4 833.8,171.4 833.8,173.2 V178.4 C833.8,181 833,182.4 832.4,185.6 H824.4 C823.4,182.8 821.6,180.4 819.4,177.6 C818,175.8 816.8,174.4 816.6,173 C816.4,171.6 817.8,171 819,171.8 C820.2,172.6 821,173.6 822,174.8 Z" fill="#fff" stroke="#222" stroke-width="1.2"/>
</g>
<g transform="translate(0.00,0.00)" fill="none" stroke="#b7972f" stroke-width="0.95" stroke-linecap="round" stroke-linejoin="round">
<path d="M886.6,164.6 L893.2,157.4 C895.6,154.8 899.2,158.6 896.8,161.2 L888.6,170.2"/>
<path d="M889.6,162.8 L892.4,159.8"/>
<path d="M876.2,156.4 L884.6,148.2 C888.2,144.8 894.2,150.4 890.8,154 L882.8,162.2"/>
<path d="M883.4,153 L887.2,149.4"/>
<circle cx="878.9" cy="159.6" r="4.1" fill="#fff"/>
<circle cx="878.9" cy="159.6" r="2.25"/>
<circle cx="878.9" cy="159.6" r="0.5" fill="#b7972f"/>
<circle cx="874.5" cy="167.8" r="4.4" fill="#fff"/>
<circle cx="874.5" cy="167.8" r="2.42"/>
<circle cx="874.5" cy="167.8" r="0.5" fill="#b7972f"/>
<circle cx="883.7" cy="167.8" r="4.4" fill="#fff"/>
<circle cx="883.7" cy="167.8" r="2.42"/>
<circle cx="883.7" cy="167.8" r="0.5" fill="#b7972f"/>
</g>
<g transform="translate(0.00,0.00)" fill="none" stroke="#b7972f" stroke-width="1.05" stroke-linecap="round" stroke-linejoin="round">
<path d="M932.4,150.2 H950.4 L954,155.4 L941.3,170.2 L928.8,155.4 Z"/>
<path d="M928.8,155.4 H954"/>
<path d="M932.4,150.2 L935.4,155.4 L941.3,150.2 L947.2,155.4 L950.4,150.2"/>
<path d="M935.4,155.4 L941.3,170.2 L947.2,155.4"/>
</g>
</svg>
<div class="t" style="left:683.90px;top:187px;font-size:9px;line-height:12px;letter-spacing:-0.498px;font-weight:700;color:#1f1f1f;">Çok Yumuşak</div>
<div class="t" style="left:694.70px;top:199px;font-size:9px;line-height:12px;letter-spacing:-0.104px;color:#333;">Too Soft</div>
<div class="t" style="left:749.70px;top:187px;font-size:9px;line-height:12px;letter-spacing:-0.522px;font-weight:700;color:#1f1f1f;">Yumuşak</div>
<div class="t" style="left:759.70px;top:199px;font-size:9px;line-height:12px;letter-spacing:0.128px;color:#333;">Soft</div>
<div class="t" style="left:805.70px;top:187px;font-size:9px;line-height:12px;letter-spacing:-0.077px;font-weight:700;color:#1f1f1f;">Orta Sert</div>
<div class="t" style="left:805.30px;top:198px;font-size:9px;line-height:12px;letter-spacing:-0.004px;color:#333;">Balanced</div>
<div class="t" style="left:874.40px;top:187px;font-size:9px;line-height:12px;letter-spacing:-0.272px;font-weight:700;color:#1f1f1f;">Sert</div>
<div class="t" style="left:873.40px;top:197px;font-size:9px;line-height:12px;letter-spacing:-0.305px;color:#333;">Hard</div>
<div class="t" style="left:923.90px;top:186px;font-size:9px;line-height:12px;letter-spacing:-0.331px;font-weight:700;color:#1f1f1f;">Çok Sert</div>
<div class="t" style="left:924.40px;top:196px;font-size:9px;line-height:12px;letter-spacing:-0.376px;color:#333;">Too Hard</div>
</div>
<div id="para">
<div class="t" style="left:679.70px;top:253px;font-size:18px;line-height:23px;letter-spacing:0.526px;font-weight:700;color:#161616;">En rahat uykuların vazgeçilmezi</div>
<div class="t" style="left:669.20px;top:288px;font-size:17.8px;line-height:23px;letter-spacing:0.175px;color:#1c1c1c;">Güne dinlenmiş bir şekilde uyanmanın</div>
<div class="t" style="left:675.20px;top:309px;font-size:17.8px;line-height:23px;letter-spacing:0.329px;color:#1c1c1c;">coşkusunu yaşatacak olan; bir tarafı</div>
<div class="t" style="left:674.20px;top:331px;font-size:17.8px;line-height:23px;letter-spacing:0.403px;color:#1c1c1c;">orta, diğer tarafı orta sert yoğunluğa</div>
<div class="t" style="left:674.60px;top:352px;font-size:17.8px;line-height:23px;letter-spacing:0.244px;color:#1c1c1c;">sahip dolgun pedler ve özel kapitone</div>
<div class="t" style="left:675.20px;top:373px;font-size:17.8px;line-height:23px;letter-spacing:0.179px;color:#1c1c1c;">yüzey size vazgeçilmez bir rahatlığın</div>
<div class="t" style="left:665.20px;top:395px;font-size:17.8px;line-height:23px;letter-spacing:-0.065px;color:#1c1c1c;">kapılarını aralayacak. En önemli özelliği,</div>
<div class="t" style="left:669.80px;top:416px;font-size:17.8px;line-height:23px;letter-spacing:0.290px;color:#1c1c1c;">birbirinden bağımsız hareket edebilen</div>
<div class="t" style="left:675.20px;top:437px;font-size:17.8px;line-height:23px;letter-spacing:0.171px;color:#1c1c1c;">yayların, uygulanan basınç miktarına</div>
<div class="t" style="left:687.20px;top:459px;font-size:17.8px;line-height:23px;letter-spacing:0.268px;color:#1c1c1c;">göre bireysel tepki verebilmesidir.</div>
<div class="t" style="left:678.20px;top:480px;font-size:17.8px;line-height:23px;letter-spacing:0.302px;color:#1c1c1c;">Böylelikle, vücudun ihtiyaç duyduğu</div>
<div class="t" style="left:726.60px;top:502px;font-size:17.8px;line-height:23px;letter-spacing:0.320px;color:#1c1c1c;">bölgesel desteği sağlar.</div>
</div>
<div id="features">
<svg id="ficons" width="1000" height="600" viewBox="0 0 1000 600">
<g fill="none" stroke="#b8962e" stroke-width="1.9" stroke-linecap="round" stroke-linejoin="round">
<path d="M66.4,501.2 H82.5 C88,501.2 89.5,510 96.5,510 H129"/>
<path d="M66.4,521.3 H129"/>
</g>
<g fill="none" stroke="#b8962e" stroke-width="1.9" stroke-dasharray="1.9 2.2">
<path d="M84.8,503.8 V519.5"/>
<path d="M97.6,512.4 V519.5"/>
<path d="M110.1,512.4 V519.5"/>
<path d="M122.7,512.4 V519.5"/>
</g>
<g fill="none" stroke="#1e1e1e" stroke-width="1.9" stroke-linecap="round" stroke-linejoin="round">
<path d="M89.4,490.4 C89.8,485 85.5,481.8 78.5,481.8 C72,481.8 68.5,485.5 68.5,489.9 C68.5,494.4 72,498 78.5,498 C83.5,498 86.8,497 88.8,495.2 C91.5,496.2 93,498.6 93.6,501 C94.4,504.2 96,505.7 99.5,505.7 H129"/>
<path d="M89.8,488.2 C93,488.6 94.6,487.4 96.4,485 C98.6,482 100.8,479.4 104.6,479.3 C108,479.2 110.5,482 116,483.8 C120.5,485.2 125,485 129.2,484"/>
<path d="M105.4,484.4 H117.5"/>
</g>
<path d="M92.6,493.3 H129.4" fill="none" stroke="#1e1e1e" stroke-width="1.8" stroke-dasharray="3.2 3.5"/>
<g fill="none" stroke="#1e1e1e" stroke-width="1.9" stroke-linejoin="round" stroke-linecap="round">
<path d="M182,495.4 L190.6,477.4 Q191.4,475.8 193.4,475.8 H232.8 Q234.8,475.8 235.6,477.4 L244.8,495.4"/>
<path d="M182,495.4 H244.8 V520.6 Q244.8,523 242.4,523 H184.4 Q182,523 182,520.6 Z"/>
</g>
<g fill="none" stroke="#1e1e1e" stroke-width="1.5">
<path d="M182,498.7 H244.8"/>
<path d="M182,519.5 H244.8"/>
</g>
<circle cx="196.4" cy="479.8" r="1" fill="#1e1e1e"/>
<circle cx="207.5" cy="479.8" r="1" fill="#1e1e1e"/>
<circle cx="218.6" cy="479.8" r="1" fill="#1e1e1e"/>
<circle cx="229.7" cy="479.8" r="1" fill="#1e1e1e"/>
<circle cx="195.3" cy="483.4" r="1" fill="#1e1e1e"/>
<circle cx="207.1" cy="483.4" r="1" fill="#1e1e1e"/>
<circle cx="219.0" cy="483.4" r="1" fill="#1e1e1e"/>
<circle cx="230.9" cy="483.4" r="1" fill="#1e1e1e"/>
<circle cx="194.1" cy="487.3" r="1" fill="#1e1e1e"/>
<circle cx="206.8" cy="487.3" r="1" fill="#1e1e1e"/>
<circle cx="219.4" cy="487.3" r="1" fill="#1e1e1e"/>
<circle cx="232.0" cy="487.3" r="1" fill="#1e1e1e"/>
<circle cx="193.0" cy="491.0" r="1" fill="#1e1e1e"/>
<circle cx="206.4" cy="491.0" r="1" fill="#1e1e1e"/>
<circle cx="219.8" cy="491.0" r="1" fill="#1e1e1e"/>
<circle cx="233.2" cy="491.0" r="1" fill="#1e1e1e"/>
<g fill="none" stroke="#b8962e" stroke-width="1.8" stroke-linecap="round">
<ellipse cx="191.9" cy="505.1" rx="5.1" ry="2.2"/>
<path d="M186.7,508.0 A5.2,2.6 0 0 0 197.1,508.0"/>
<path d="M186.7,512.2 A5.2,2.6 0 0 0 197.1,512.2"/>
<ellipse cx="205.9" cy="505.1" rx="5.1" ry="2.2"/>
<path d="M200.7,508.0 A5.2,2.6 0 0 0 211.1,508.0"/>
<path d="M200.7,512.2 A5.2,2.6 0 0 0 211.1,512.2"/>
<ellipse cx="219.9" cy="505.1" rx="5.1" ry="2.2"/>
<path d="M214.7,508.0 A5.2,2.6 0 0 0 225.1,508.0"/>
<path d="M214.7,512.2 A5.2,2.6 0 0 0 225.1,512.2"/>
<ellipse cx="234.3" cy="505.1" rx="5.1" ry="2.2"/>
<path d="M229.1,508.0 A5.2,2.6 0 0 0 239.5,508.0"/>
<path d="M229.1,512.2 A5.2,2.6 0 0 0 239.5,512.2"/>
</g>
<g fill="none" stroke="#1e1e1e" stroke-width="2" stroke-linejoin="round" stroke-linecap="round">
<path d="M330.6,510.2 A24.6,24.6 0 1 0 308.8,522.4 H366.4 V510.2 H309.5 A11.3,11.3 0 1 1 319.3,499.6 C319.3,501.4 317.8,502.9 315.6,503.3"/>
</g>
<g fill="none" stroke="#b8962e" stroke-width="1.3" stroke-linecap="round" stroke-linejoin="round">
<path d="M294.4,473.3 A26.8,26.8 0 0 1 335.7,490.6"/>
<path d="M298.6,469.6 L294.2,473.4 L299.6,474.6"/>
<path d="M331.8,487.6 L335.8,490.9 L336.6,485.6"/>
</g>
<g fill="none" stroke="#b8962e" stroke-width="1.7" stroke-linecap="round" stroke-linejoin="round">
<path d="M416.2,487.6 C410.5,491.5 408.3,498.5 408.3,505.5 C408.3,514.5 414,521.5 422.5,521.5 C431,521.5 436.8,514.5 436.8,505.5 C436.8,498.5 434.5,491.5 428.8,487.6"/>
<path d="M418.6,485.4 C418.6,482.6 420.2,481.4 422.5,481.4 C424.8,481.4 426.4,482.6 426.4,485.4 Z"/>
<path d="M416.4,487.6 C420,485.4 425,485.4 428.6,487.6"/>
<path d="M413.6,494 C412.6,498.4 414.6,501.6 418,503"/>
<path d="M422.6,488.4 C426.4,489.4 428.4,491.6 428.6,494.6"/>
<path d="M432.6,495.4 C433.4,499.6 431,503.2 424.4,503.8"/>
<path d="M413.4,490.4 L410.2,488.8 L408.6,485.6"/>
<path d="M410.2,496.6 L406.4,495.6 L404.6,496.6"/>
<path d="M408.4,503.6 L403.8,503.6"/>
<path d="M409,511.6 L405.6,511.8 L403.6,513.8"/>
<path d="M414.4,486 L412.6,483.6"/>
<path d="M431.6,490.4 L434.8,488.8 L436.4,485.6"/>
<path d="M434.8,496.6 L438.6,495.6 L440.4,496.6"/>
<path d="M436.6,503.6 L441.2,503.6"/>
<path d="M436,511.6 L439.4,511.8 L441.4,513.8"/>
<path d="M430.6,486 L432.4,483.6"/>
<path d="M411.6,517 L409.6,519.6"/>
<path d="M433.4,517 L435.4,519.6"/>
</g>
<line x1="442.9" y1="482.5" x2="402.9" y2="521.5" stroke="#fff" stroke-width="3.6"/>
<circle cx="422.5" cy="502.0" r="28.4" fill="none" stroke="#1e1e1e" stroke-width="1.9"/>
<line x1="442.9" y1="482.5" x2="402.9" y2="521.5" stroke="#1e1e1e" stroke-width="2.1"/>
<rect x="498.3" y="474.2" width="13.1" height="3.2" fill="#b89a35"/>
<rect x="519.1" y="474.2" width="9.6" height="3.2" fill="#b89a35"/>
<rect x="536.3" y="474.2" width="13.4" height="3.2" fill="#b89a35"/>
<rect x="498.3" y="482.9" width="4.5" height="3.2" fill="#b89a35"/>
<rect x="510.6" y="482.9" width="9.3" height="3.2" fill="#b89a35"/>
<rect x="526.9" y="482.9" width="10.5" height="3.2" fill="#b89a35"/>
<rect x="545.0" y="482.9" width="4.7" height="3.2" fill="#b89a35"/>
<rect x="498.3" y="491.7" width="13.1" height="3.2" fill="#3a3a3a"/>
<rect x="519.1" y="491.7" width="9.6" height="3.2" fill="#3a3a3a"/>
<rect x="536.3" y="491.7" width="13.4" height="3.2" fill="#3a3a3a"/>
<rect x="498.3" y="500.2" width="4.5" height="3.2" fill="#3a3a3a"/>
<rect x="510.6" y="500.2" width="9.3" height="3.2" fill="#b89a35"/>
<rect x="526.9" y="500.2" width="10.5" height="3.2" fill="#b89a35"/>
<rect x="545.0" y="500.2" width="4.7" height="3.2" fill="#b89a35"/>
<rect x="498.3" y="507.9" width="13.1" height="3.2" fill="#b89a35"/>
<rect x="519.1" y="507.9" width="9.6" height="3.2" fill="#b89a35"/>
<rect x="536.3" y="507.9" width="13.4" height="3.2" fill="#b89a35"/>
<rect x="504.85" y="466.4" width="3.3" height="5.3" fill="#3a3a3a"/>
<rect x="504.85" y="480.0" width="3.3" height="9.2" fill="#3a3a3a"/>
<rect x="504.85" y="497.3" width="3.3" height="7.7" fill="#3a3a3a"/>
<rect x="504.85" y="513.0" width="3.3" height="5.3" fill="#3a3a3a"/>
<rect x="513.65" y="466.4" width="3.3" height="11.1" fill="#3a3a3a"/>
<rect x="513.65" y="488.6" width="3.3" height="9.0" fill="#3a3a3a"/>
<rect x="513.65" y="505.9" width="3.3" height="12.4" fill="#3a3a3a"/>
<rect x="522.15" y="466.4" width="3.3" height="5.3" fill="#3a3a3a"/>
<rect x="522.15" y="480.0" width="3.3" height="9.2" fill="#3a3a3a"/>
<rect x="522.15" y="497.3" width="3.3" height="7.7" fill="#3a3a3a"/>
<rect x="522.15" y="513.0" width="3.3" height="5.3" fill="#3a3a3a"/>
<rect x="530.75" y="466.4" width="3.3" height="11.1" fill="#3a3a3a"/>
<rect x="530.75" y="488.6" width="3.3" height="9.0" fill="#3a3a3a"/>
<rect x="530.75" y="505.9" width="3.3" height="12.4" fill="#3a3a3a"/>
<rect x="539.55" y="466.4" width="3.3" height="5.3" fill="#3a3a3a"/>
<rect x="539.55" y="480.0" width="3.3" height="9.2" fill="#3a3a3a"/>
<rect x="539.55" y="497.3" width="3.3" height="7.7" fill="#3a3a3a"/>
<rect x="539.55" y="513.0" width="3.3" height="5.3" fill="#3a3a3a"/>
</svg>
<div class="t" style="left:65.00px;top:535px;font-size:14px;line-height:18px;letter-spacing:0.009px;font-weight:700;color:#1b1b1b;">Ortopedik</div>
<div class="t" style="left:62.40px;top:551px;font-size:14px;line-height:18px;letter-spacing:0.280px;color:#2e2e2e;">Orthopedic</div>
<div class="t" style="left:156.70px;top:535px;font-size:14px;line-height:18px;letter-spacing:-0.402px;font-weight:700;color:#1b1b1b;">Torba Yay Sistemi</div>
<div class="t" style="left:145.20px;top:551px;font-size:14px;line-height:18px;letter-spacing:-0.107px;color:#2e2e2e;">Pocket Spring System</div>
<div class="t" style="left:290.60px;top:535px;font-size:14px;line-height:18px;letter-spacing:-0.329px;font-weight:700;color:#1b1b1b;">Rulo Paket</div>
<div class="t" style="left:297.40px;top:551px;font-size:14px;line-height:18px;letter-spacing:-0.455px;color:#2e2e2e;">Roll Pack</div>
<div class="t" style="left:376.20px;top:535px;font-size:14px;line-height:18px;letter-spacing:-0.046px;font-weight:700;color:#1b1b1b;">Antibakteriyel</div>
<div class="t" style="left:382.00px;top:551px;font-size:14px;line-height:18px;letter-spacing:0.188px;color:#2e2e2e;">Antibacterial</div>
<div class="t" style="left:482.80px;top:535px;font-size:14px;line-height:18px;letter-spacing:-0.517px;font-weight:700;color:#1b1b1b;">Örme Kumaş</div>
<div class="t" style="left:481.40px;top:551px;font-size:14px;line-height:18px;letter-spacing:-0.106px;color:#2e2e2e;">Knitted Fabric</div>
</div>
</div>
</body>
</html>
